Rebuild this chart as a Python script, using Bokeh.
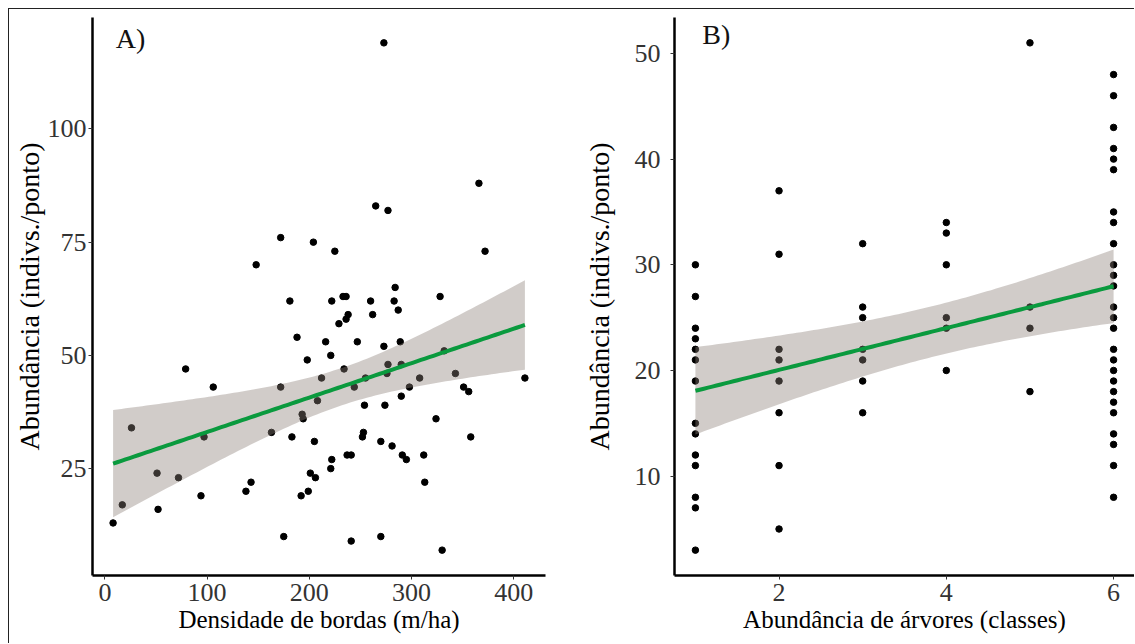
import numpy as np
from bokeh.plotting import figure
from bokeh.layouts import row
from bokeh.models import FixedTicker, Label, Range1d
from bokeh.embed import file_html
from bokeh.resources import INLINE

# ---------------- data ----------------
# Panel A: edge density (m/ha) vs abundance
edge_density = [273, 366, 265, 277, 172, 204, 225, 372, 148, 284, 181, 222, 283, 260,
                233, 236, 328, 287, 238, 236, 262, 229, 188, 216, 247, 289, 198, 221,
                273, 332, 79, 234, 277, 290, 276, 212, 255, 308, 343, 411, 106, 172,
                244, 298, 351, 356, 208, 290, 254, 274, 193, 194, 324, 26, 163, 253,
                252, 97, 183, 358, 205, 270, 281, 237, 241, 291, 312, 295, 222, 221,
                51, 72, 201, 206, 143, 313, 138, 199, 94, 192, 17, 52, 8, 175, 270,
                241, 330]
abund_a = [119, 88, 83, 82, 76, 75, 73, 73, 70, 65, 62, 62, 62, 62,
           63, 63, 63, 60, 59, 58, 59, 57, 54, 53, 53, 53, 49, 50,
           52, 51, 47, 47, 48, 48, 46, 45, 45, 45, 46, 45, 43, 43,
           43, 43, 43, 42, 40, 41, 39, 39, 37, 36, 36, 34, 33, 33,
           32, 32, 32, 32, 31, 31, 30, 28, 28, 28, 28, 27, 27, 25,
           24, 23, 24, 23, 22, 22, 20, 20, 19, 19, 17, 16, 13, 10, 10,
           9, 7]

# Panel B: tree abundance class vs abundance
tree_class = ([1] * 14 + [2] * 8 + [3] * 7 + [4] * 6 + [5] * 4 + [6] * 26)
abund_b = ([30, 27, 24, 23, 22, 21, 19, 15, 14, 12, 11, 8, 7, 3] +
           [37, 31, 22, 21, 19, 16, 11, 5] +
           [32, 26, 25, 22, 21, 19, 16] +
           [34, 33, 30, 25, 24, 20] +
           [51, 26, 24, 18] +
           [48, 46, 43, 41, 40, 39, 35, 34, 32, 30, 29, 28, 26, 25, 24, 22, 21,
            20, 19, 18, 17, 16, 14, 13, 11, 8])

ticks_ax = [0, 100, 200, 300, 400]
ticks_ay = [25, 50, 75, 100]
ticks_bx = [2, 4, 6]
ticks_by = [10, 20, 30, 40, 50]

label_a = "A)"
label_b = "B)"
xtitle_a = "Densidade de bordas (m/ha)"
xtitle_b = "Abundância de árvores (classes)"
ytitle = "Abundância (indivs./ponto)"

FONT = "Liberation Serif"
GREEN = "#0a9a3e"
H = 634
TOP = 8
FRAME_H = 558


def t975(df):
    z = 1.959964
    return z + (z ** 3 + z) / (4 * df) + (5 * z ** 5 + 16 * z ** 3 + 3 * z) / (96 * df ** 2)


def lm_fit(x, y):
    x = np.asarray(x, float)
    y = np.asarray(y, float)
    n = len(x)
    b1, b0 = np.polyfit(x, y, 1)
    res = y - (b0 + b1 * x)
    s = np.sqrt((res ** 2).sum() / (n - 2))
    xs = np.linspace(x.min(), x.max(), 100)
    yh = b0 + b1 * xs
    se = s * np.sqrt(1 / n + (xs - x.mean()) ** 2 / ((x - x.mean()) ** 2).sum())
    t = t975(n - 2)
    return xs, yh, yh - t * se, yh + t * se


def expanded(v):
    lo, hi = min(v), max(v)
    d = (hi - lo) * 0.05
    return Range1d(lo - d, hi + d)


def panel(x, y, width, mbl, mbr, xticks, yticks, xtitle, lab, lab_xy,
          ytick_standoff, ylab_standoff):
    p = figure(width=width, height=H, x_range=expanded(x), y_range=expanded(y),
               output_backend="svg", toolbar_location=None,
               min_border_left=mbl, min_border_right=mbr,
               min_border_top=TOP, min_border_bottom=H - TOP - FRAME_H)
    p.background_fill_color = "white"
    p.border_fill_color = "white"
    p.outline_line_color = None
    p.xgrid.grid_line_color = None
    p.ygrid.grid_line_color = None

    p.scatter(x, y, size=6.5, color="black")
    xs, yh, lo, hi = lm_fit(x, y)
    p.varea(x=xs, y1=lo, y2=hi, fill_color="#8c7f78", fill_alpha=0.4)
    p.line(xs, yh, line_color=GREEN, line_width=4)

    for ax in (p.xaxis, p.yaxis):
        ax.axis_line_color = "black"
        ax.axis_line_width = 2.5
        ax.major_tick_line_color = "#333333"
        ax.major_tick_line_width = 1
        ax.major_tick_out = 4
        ax.major_tick_in = 0
        ax.minor_tick_line_color = None
        ax.major_label_text_font = FONT
        ax.major_label_text_font_size = "26px"
        ax.major_label_text_color = "#333333"
        ax.axis_label_text_font = FONT
        ax.axis_label_text_font_style = "normal"
        ax.axis_label_text_color = "black"
    p.xaxis.axis_label_text_font_size = "25px"
    p.yaxis.axis_label_text_font_size = "28px"

    p.xaxis.ticker = FixedTicker(ticks=xticks)
    p.yaxis.ticker = FixedTicker(ticks=yticks)
    p.xaxis.axis_label = xtitle
    p.yaxis.axis_label = ytitle
    p.xaxis.major_label_standoff = 4
    p.xaxis.axis_label_standoff = 2
    p.yaxis.major_label_standoff = ytick_standoff
    p.yaxis.axis_label_standoff = ylab_standoff

    p.add_layout(Label(x=lab_xy[0], y=lab_xy[1], text=lab, text_font=FONT,
                       text_font_size="28px", text_align="center",
                       text_baseline="middle", text_color="#111111"))
    return p


pa = panel(edge_density, abund_a, 551, 83, 15, ticks_ax, ticks_ay, xtitle_a,
           label_a, (25, 120), 2, 0)
pb = panel(tree_class, abund_b, 574, 114, 0, ticks_bx, ticks_by, xtitle_b,
           label_b, (1.25, 51.8), 10, 17)

layout = row(pa, pb, margin=(8, 0, 0, 8),
             styles={"border-top": "1.5px solid #222",
                     "border-left": "1.5px solid #222"})

open("out.html", "w").write(file_html(layout, INLINE))
